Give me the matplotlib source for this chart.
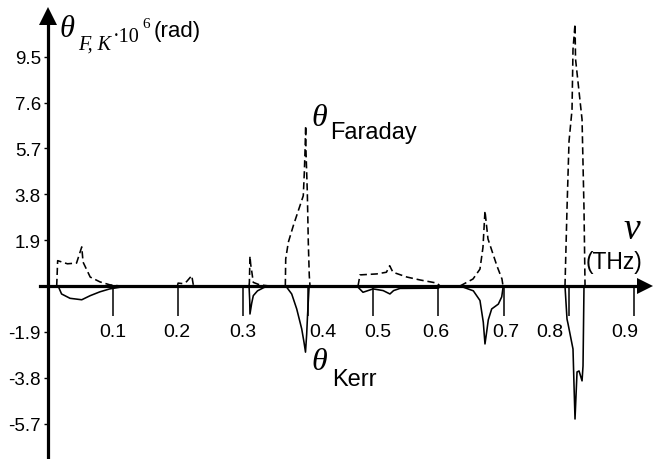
import numpy as np
import matplotlib
matplotlib.use("Agg")
import matplotlib.pyplot as plt
import matplotlib.transforms as mtransforms

nan = np.nan

# Faraday rotation (dashed), segments separated by NaN
faraday_nu = [0.0135, 0.0150, 0.030, 0.044, 0.052, 0.054, 0.065, 0.080, 0.095, 0.111, nan,
              0.199, 0.200, 0.207, 0.213, 0.220, 0.221, 0.223, 0.224, nan,
              0.309, 0.3095, 0.3104, 0.3115, 0.3130, 0.3155, 0.325, 0.340, nan,
              0.3647, 0.3653, 0.3693, 0.3770, 0.3923, 0.3939, 0.3949, 0.3960, 0.3965, 0.3985, 0.4000, 0.4015, 0.4026, nan,
              0.4764, 0.4794, 0.5050, 0.5200, 0.5250, 0.5300, 0.5516, 0.5716, 0.5977, 0.6023, nan,
              0.6330, 0.6530, 0.6637, 0.6683, 0.6714, 0.6760, 0.6898, 0.6975, 0.6991, nan,
              0.7943, 0.7974, 0.8005, 0.8051, 0.8066, 0.8097, 0.8105, 0.8205, 0.8235, 0.8251]
faraday_theta = [0, 1.05, 0.92, 0.95, 1.62, 0.99, 0.37, 0.17, 0.05, 0, nan,
                 0, 0.12, 0.10, 0.18, 0.40, 0.43, 0.10, 0, nan,
                 0, 0.15, 1.23, 0.90, 0.63, 0.15, 0.05, 0, nan,
                 0, 1.12, 1.81, 2.50, 3.74, 4.71, 5.54, 6.64, 5.55, 3.88, 1.81, 0.43, 0, nan,
                 0, 0.46, 0.50, 0.57, 0.84, 0.57, 0.37, 0.25, 0.12, 0, nan,
                 0, 0.29, 0.70, 1.60, 3.11, 1.95, 0.83, 0.29, 0, nan,
                 0, 3.2, 6.0, 7.3, 9.8, 10.85, 9.4, 6.9, 3.2, 0]

# Kerr rotation (solid)
kerr_nu = [0.0135, 0.0165, 0.021, 0.034, 0.052, 0.065, 0.080, 0.095, 0.111, 0.120, nan,
           0.199, 0.210, 0.224, nan,
           0.309, 0.3100, 0.3104, 0.3130, 0.3155, 0.322, 0.332, 0.342, nan,
           0.3660, 0.3668, 0.3745, 0.3822, 0.3899, 0.3934, 0.3957, 0.3975, 0.3988, 0.4011, 0.4030, nan,
           0.4755, 0.4764, 0.4840, 0.4995, 0.5150, 0.5254, 0.5310, 0.5408, 0.6000, 0.6023, nan,
           0.6330, 0.6535, 0.6637, 0.6688, 0.6714, 0.6740, 0.6765, 0.6817, 0.6919, 0.6971, 0.6995, nan,
           0.7943, 0.7974, 0.7990, 0.8066, 0.8082, 0.8097, 0.8128, 0.8159, 0.8205, 0.8220, 0.8235]
kerr_theta = [0, -0.05, -0.33, -0.51, -0.57, -0.40, -0.24, -0.12, -0.05, 0, nan,
              0, -0.03, 0, nan,
              0, -0.6, -1.16, -0.72, -0.40, -0.20, -0.06, 0, nan,
              0, -0.05, -0.33, -0.95, -1.78, -2.33, -2.74, -2.0, -1.23, -0.08, 0, nan,
              0, -0.05, -0.26, -0.12, -0.19, -0.33, -0.19, -0.10, -0.09, 0, nan,
              0, -0.2, -0.6, -1.5, -2.4, -1.9, -1.4, -0.95, -0.75, -0.45, 0, nan,
              0, -1.37, -1.57, -2.61, -4.14, -5.51, -3.56, -3.52, -3.93, -3.31, 0]

xtick_vals = [0.1, 0.2, 0.3, 0.4, 0.5, 0.6, 0.7, 0.8, 0.9]
xtick_labels = ["0.1", "0.2", "0.3", "0.4", "0.5", "0.6", "0.7", "0.8", "0.9"]
ytick_vals = [9.5, 7.6, 5.7, 3.8, 1.9, -1.9, -3.8, -5.7]
ytick_labels = ["9.5", "7.6", "5.7", "3.8", "1.9", "-1.9", "-3.8", "-5.7"]

plt.rcParams['font.family'] = ['Liberation Sans', 'DejaVu Sans']

W, H = 653, 460
fig = plt.figure(figsize=(W / 100, H / 100), dpi=100)
ax = fig.add_axes([0, 0, 1, 1])
ax.patch.set_alpha(0)

x0px, xscale = 47.9, 651.0
y0px, yscale = 287.0, 24.14
ax.set_xlim(-x0px / xscale, (W - x0px) / xscale)
ax.set_ylim(-(H - y0px) / yscale, y0px / yscale)

ax.plot(faraday_nu, faraday_theta, color='black', lw=1.15, dashes=(4.5, 2.4))
ax.plot(kerr_nu, kerr_theta, color='black', lw=1.15)

for s in ['top', 'right']:
    ax.spines[s].set_visible(False)
ax.spines['left'].set_position(('data', 0))
ax.spines['bottom'].set_position(('data', 0))
ax.spines['left'].set_linewidth(2.3)
ax.spines['bottom'].set_linewidth(2.3)
ax.spines['left'].set_bounds(-(H - y0px) / yscale, (y0px - 24) / yscale)
ax.spines['bottom'].set_bounds((40 - x0px) / xscale, (640 - x0px) / xscale)

# arrow heads
ax.plot([0], [(y0px - 16.5) / yscale], marker='^', ms=12.5, color='black', mew=0, clip_on=False)
ax.plot([(645 - x0px) / xscale], [0], marker='>', ms=11, color='black', mew=0, clip_on=False)

ax.set_xticks(xtick_vals)
ax.set_xticklabels([])
ax.tick_params(axis='x', direction='out', length=21.6, width=1.1, color='black')
ax.set_yticks(ytick_vals)
ax.set_yticklabels(ytick_labels)
ax.tick_params(axis='y', direction='out', length=3, width=1.0, pad=2, labelsize=13.5)

xoffs = [0, -1, 0, 15, 4, -3, 2, -19, -9]
for v, lab, off in zip(xtick_vals, xtick_labels, xoffs):
    tr = mtransforms.offset_copy(ax.transData, fig=fig, x=off, y=-50, units='dots')
    ax.text(v, 0, lab, transform=tr, ha='center', va='baseline', fontsize=14)


def ft(x, y, s, **kw):
    fig.text(x / W, 1 - y / H, s, va='baseline', ha='left', **kw)


serif = dict(family='Liberation Serif')
# y-axis title
ft(60, 37, 'θ', fontsize=22, style='italic', **serif)
ft(78, 50, 'F, K', fontsize=14.5, style='italic', **serif)
ft(113, 42, '·10', fontsize=14.5, **serif)
ft(142, 28, '6', fontsize=11, **serif)
ft(154, 37, '(rad)', fontsize=16)

# curve labels
ft(311, 126, 'θ', fontsize=23, style='italic', **serif)
ft(330, 139, 'Faraday', fontsize=17)
ft(311, 370, 'θ', fontsize=23, style='italic', **serif)
ft(332, 386, 'Kerr', fontsize=17)

# x-axis title
ft(623, 239, 'ν', fontsize=27, style='italic', **serif)
ft(586, 269, '(THz)', fontsize=16.5)

fig.savefig('out.png', dpi=100)
